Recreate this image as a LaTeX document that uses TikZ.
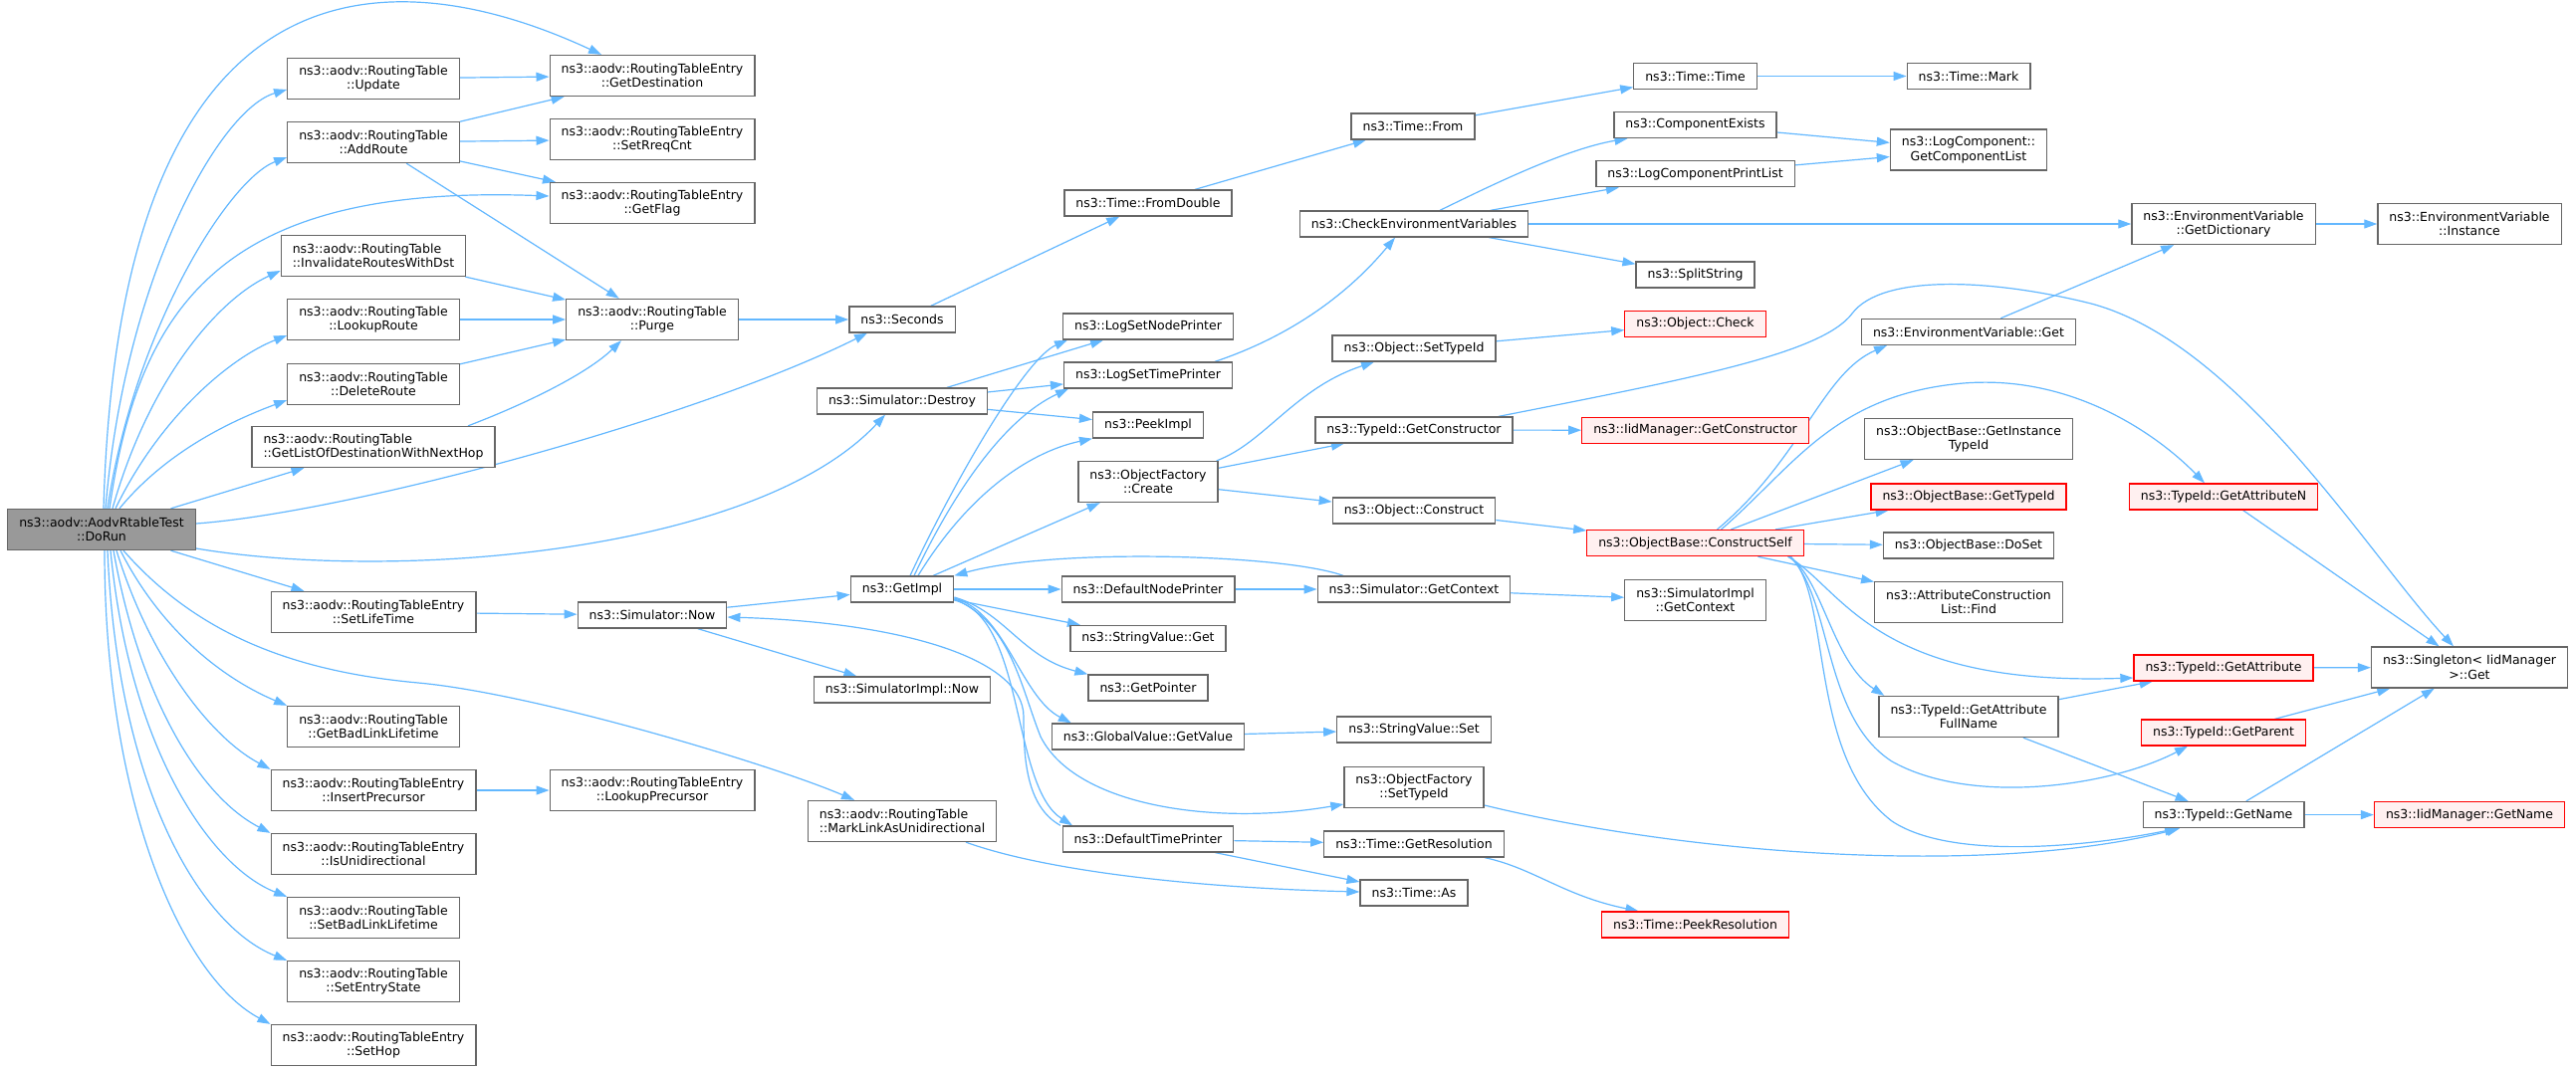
\documentclass[tikz,border=0pt]{standalone}
\usepackage{fontspec}
\setmainfont{DejaVu Sans}
\usetikzlibrary{arrows.meta}
\pgfdeclarelayer{bg}
\pgfsetlayers{bg,main}
\definecolor{callblue}{HTML}{63B8FF}
\definecolor{boxgray}{HTML}{666666}
\definecolor{rootgray}{HTML}{999999}
\definecolor{warnred}{HTML}{FF0000}
\definecolor{warnfill}{HTML}{FFF0F0}
\tikzset{
	fn/.style={draw=boxgray, line width=1.3pt, fill=white, inner xsep=11.5pt, inner ysep=2pt, minimum height=26pt, align=center, font=\fontsize{12.5}{14.5}\selectfont},
	fntwo/.style={fn, minimum height=41pt},
	fnred/.style={fn, draw=warnred, fill=warnfill},
	fnroot/.style={fntwo, fill=rootgray},
	calls/.style={draw=callblue, line width=1.2pt, -{Triangle[length=13pt,width=9pt]}}
}
\begin{document}
\begin{tikzpicture}[x=1pt, y=-1pt]
				\node[fnroot] (d) at (102,532) {ns3::aodv::AodvRtableTest\\::DoRun};
				\node[fntwo] (upd) at (375,79) {ns3::aodv::RoutingTable\\::Update};
				\node[fntwo] (addr) at (375,143) {ns3::aodv::RoutingTable\\::AddRoute};
				\node[fntwo, align=left] (inv) at (375,257) {ns3::aodv::RoutingTable\\::InvalidateRoutesWithDst};
				\node[fntwo] (lkr) at (375,321) {ns3::aodv::RoutingTable\\::LookupRoute};
				\node[fntwo] (delr) at (375,386) {ns3::aodv::RoutingTable\\::DeleteRoute};
				\node[fntwo, align=left] (glod) at (375,449) {ns3::aodv::RoutingTable\\::GetListOfDestinationWithNextHop};
				\node[fntwo] (slt) at (375,615) {ns3::aodv::RoutingTableEntry\\::SetLifeTime};
				\node[fntwo] (gbll) at (375,730) {ns3::aodv::RoutingTable\\::GetBadLinkLifetime};
				\node[fntwo] (insp) at (375,794) {ns3::aodv::RoutingTableEntry\\::InsertPrecursor};
				\node[fntwo] (isu) at (375,858) {ns3::aodv::RoutingTableEntry\\::IsUnidirectional};
				\node[fntwo] (sbll) at (375,922) {ns3::aodv::RoutingTable\\::SetBadLinkLifetime};
				\node[fntwo] (ses) at (375,986) {ns3::aodv::RoutingTable\\::SetEntryState};
				\node[fntwo] (shop) at (375,1050) {ns3::aodv::RoutingTableEntry\\::SetHop};
				\node[fntwo] (gdst) at (655,76) {ns3::aodv::RoutingTableEntry\\::GetDestination};
				\node[fntwo] (srq) at (655,140) {ns3::aodv::RoutingTableEntry\\::SetRreqCnt};
				\node[fntwo] (gflag) at (655,204) {ns3::aodv::RoutingTableEntry\\::GetFlag};
				\node[fntwo] (purge) at (655,321) {ns3::aodv::RoutingTable\\::Purge};
				\node[fn] (snow) at (655,618) {ns3::Simulator::Now};
				\node[fntwo] (lkp) at (655,794) {ns3::aodv::RoutingTableEntry\\::LookupPrecursor};
				\node[fn] (sec) at (906,321) {ns3::Seconds};
				\node[fn] (sdes) at (906,403) {ns3::Simulator::Destroy};
				\node[fn] (gimpl) at (906,592) {ns3::GetImpl};
				\node[fn] (sinow) at (906,693) {ns3::SimulatorImpl::Now};
				\node[fntwo, align=left] (mlau) at (906,825) {ns3::aodv::RoutingTable\\::MarkLinkAsUnidirectional};
				\node[fn] (fdbl) at (1153,204) {ns3::Time::FromDouble};
				\node[fn] (lsnp) at (1153,328) {ns3::LogSetNodePrinter};
				\node[fn] (lstp) at (1153,377) {ns3::LogSetTimePrinter};
				\node[fn] (peek) at (1153,427) {ns3::PeekImpl};
				\node[fntwo] (ofc) at (1153,484) {ns3::ObjectFactory\\::Create};
				\node[fn] (dnp) at (1153,592) {ns3::DefaultNodePrinter};
				\node[fn] (svget) at (1153,641.5) {ns3::StringValue::Get};
				\node[fn] (gptr) at (1153,691) {ns3::GetPointer};
				\node[fn] (gvget) at (1153,740) {ns3::GlobalValue::GetValue};
				\node[fn] (dtp) at (1153,843) {ns3::DefaultTimePrinter};
				\node[fn] (tfrom) at (1419,127) {ns3::Time::From};
				\node[fn] (chk) at (1420,225) {ns3::CheckEnvironmentVariables};
				\node[fn] (osti) at (1420,350) {ns3::Object::SetTypeId};
				\node[fn] (tgc) at (1420,432) {ns3::TypeId::GetConstructor};
				\node[fn] (ocon) at (1420,513) {ns3::Object::Construct};
				\node[fn] (sgc) at (1420,592) {ns3::Simulator::GetContext};
				\node[fn] (svset) at (1420,733) {ns3::StringValue::Set};
				\node[fntwo] (ofst) at (1420,791) {ns3::ObjectFactory\\::SetTypeId};
				\node[fn] (tgr) at (1420,848) {ns3::Time::GetResolution};
				\node[fn] (tas) at (1420,897) {ns3::Time::As};
				\node[fn] (ttime) at (1702.5,76.5) {ns3::Time::Time};
				\node[fn] (cex) at (1702.5,125.5) {ns3::ComponentExists};
				\node[fn] (lcpl) at (1702.5,174.7) {ns3::LogComponentPrintList};
				\node[fn] (split) at (1702.5,276) {ns3::SplitString};
				\node[fnred] (ochk) at (1702.5,325.4) {ns3::Object::Check};
				\node[fnred] (igc) at (1702.5,432.3) {ns3::IidManager::GetConstructor};
				\node[fnred] (cself) at (1702.5,545.6) {ns3::ObjectBase::ConstructSelf};
				\node[fntwo] (sigc) at (1702.5,603) {ns3::SimulatorImpl\\::GetContext};
				\node[fnred] (tpr) at (1702.5,929) {ns3::Time::PeekResolution};
				\node[fn] (tmark) at (1977,76.5) {ns3::Time::Mark};
				\node[fntwo] (gcl) at (1977,150.6) {ns3::LogComponent::\\GetComponentList};
				\node[fn] (evget) at (1977,333.4) {ns3::EnvironmentVariable::Get};
				\node[fntwo] (giti) at (1977,441) {ns3::ObjectBase::GetInstance\\TypeId};
				\node[fnred] (obgti) at (1977,499) {ns3::ObjectBase::GetTypeId};
				\node[fn] (doset) at (1977,548) {ns3::ObjectBase::DoSet};
				\node[fntwo] (acl) at (1977,605) {ns3::AttributeConstruction\\List::Find};
				\node[fntwo] (gafn) at (1977,720) {ns3::TypeId::GetAttribute\\FullName};
				\node[fntwo] (gdict) at (2233,225) {ns3::EnvironmentVariable\\::GetDictionary};
				\node[fnred] (gattn) at (2233,499) {ns3::TypeId::GetAttributeN};
				\node[fnred] (gatt) at (2233,671) {ns3::TypeId::GetAttribute};
				\node[fnred] (gpar) at (2233,736) {ns3::TypeId::GetParent};
				\node[fn] (gname) at (2233,818.6) {ns3::TypeId::GetName};
				\node[fntwo] (inst) at (2480,225) {ns3::EnvironmentVariable\\::Instance};
				\node[fntwo] (sing) at (2480,670.5) {ns3::Singleton< IidManager\\>::Get};
				\node[fnred] (ign) at (2480,818.6) {ns3::IidManager::GetName};
				\begin{pgfonlayer}{bg}
					\path[use as bounding box, fill=white] (0,0) rectangle (2587,1075);
					\foreach \a/\b in {upd/gdst, addr/gdst, addr/srq, addr/gflag, addr/purge, inv/purge, lkr/purge, delr/purge, d/glod, d/slt, slt/snow, insp/lkp, purge/sec, sec/fdbl, fdbl/tfrom, tfrom/ttime, ttime/tmark, snow/gimpl, snow/sinow, sdes/lsnp, sdes/lstp, sdes/peek, gimpl/ofc, gimpl/dnp, gimpl/svget, dnp/sgc, sgc/sigc, gvget/svset, dtp/tgr, dtp/tas, chk/lcpl, chk/split, chk/gdict, cex/gcl, lcpl/gcl, gdict/inst, evget/gdict, ofc/tgc, ofc/ocon, osti/ochk, tgc/igc, ocon/cself, cself/giti, cself/obgti, cself/doset, cself/acl, gafn/gatt, gafn/gname, gattn/sing, gatt/sing, gpar/sing, gname/sing, gname/ign}
						\draw[calls] (\a) -- (\b);
					\draw[calls] ([xshift=2pt]d.north) .. controls (120,-60) and (400,-40) .. ([xshift=-51pt]gdst.north);
					\draw[calls] ([xshift=4pt]d.north) .. controls (125,280) and (220,110) .. ([yshift=-11pt]upd.west);
					\draw[calls] ([xshift=6pt]d.north) .. controls (135,330) and (230,180) .. ([yshift=-15pt]addr.west);
					\draw[calls] ([xshift=8pt]d.north) .. controls (140,300) and (230,185) .. ([yshift=7pt]gflag.west);
					\draw[calls] ([xshift=11pt]d.north) .. controls (150,380) and (220,300) .. ([yshift=-15pt]inv.west);
					\draw[calls] ([xshift=14pt]d.north) .. controls (160,420) and (230,360) .. ([yshift=-16pt]lkr.west);
					\draw[calls] ([xshift=18pt]d.north) .. controls (170,450) and (240,420) .. ([yshift=-16pt]delr.west);
					\draw[calls] ([yshift=6pt]d.east) .. controls (350,515) and (700,420) .. ([xshift=-35pt]sec.south);
					\draw[calls] ([yshift=-19pt]d.east) .. controls (400,585) and (760,555) .. ([xshift=-17pt]sdes.south);
					\draw[calls] ([xshift=19pt]d.south) .. controls (160,630) and (220,680) .. (gbll.north west);
					\draw[calls] ([xshift=15pt]d.south) .. controls (150,660) and (210,740) .. (insp.north west);
					\draw[calls] ([xshift=12pt]d.south) .. controls (140,700) and (200,800) .. (isu.north west);
					\draw[calls] ([xshift=9pt]d.south) .. controls (130,750) and (210,870) .. (sbll.north west);
					\draw[calls] ([xshift=6pt]d.south) .. controls (118,790) and (200,930) .. (ses.north west);
					\draw[calls] ([xshift=3pt]d.south) .. controls (105,800) and (180,980) .. (shop.north west);
					\draw[calls] ([xshift=22pt]d.south) .. controls (200,640) and (300,675) .. (420,686) .. controls (540,697) and (780,770) .. ([xshift=-48pt]mlau.north);
					\draw[calls] ([xshift=95pt]glod.north) .. controls (530,405) and (590,375) .. ([xshift=-31pt]purge.south);
					\draw[calls] ([xshift=67pt]lstp.north) .. controls (1290,340) and (1350,300) .. ([xshift=-19pt]chk.south);
					\draw[calls] ([xshift=8pt]gimpl.north) .. controls (960,480) and (1030,360) .. ([xshift=-81pt]lsnp.south);
					\draw[calls] ([xshift=12pt]gimpl.north) .. controls (960,490) and (1010,420) .. ([xshift=-80pt]lstp.south);
					\draw[calls] ([xshift=16pt]gimpl.north) .. controls (970,500) and (1030,455) .. (peek.south west);
					\draw[calls] ([xshift=-71pt]sgc.north) .. controls (1290,557) and (1060,550) .. (gimpl.north east);
					\draw[calls] ([xshift=-88pt]dtp.north) .. controls (1030,810) and (1028,760) .. (1028,720) .. controls (1028,660) and (900,625) .. ([yshift=-2pt]snow.east);
					\draw[calls] ([yshift=-8pt]gimpl.east) .. controls (1010,615) and (1025,660) .. (gptr.north west);
					\draw[calls] ([yshift=-9pt]gimpl.east) .. controls (1010,615) and (1025,700) .. ([xshift=20pt]gvget.north west);
					\draw[calls] ([yshift=-10pt]gimpl.east) .. controls (1015,625) and (1025,690) .. (1045,740) .. controls (1080,810) and (1220,830) .. ([yshift=-17pt]ofst.west);
					\draw[calls] ([yshift=-11pt]gimpl.east) .. controls (1030,620) and (1015,790) .. ([xshift=-76pt]dtp.north);
					\draw[calls] ([xshift=64pt]mlau.south) .. controls (1050,875) and (1200,892) .. ([yshift=1pt]tas.west);
					\draw[calls] ([xshift=71pt]tgr.south) .. controls (1540,872) and (1570,900) .. ([xshift=-57pt]tpr.north);
					\draw[calls] ([xshift=-2pt]ofc.north east) .. controls (1270,445) and (1300,390) .. ([xshift=-40pt]osti.south);
					\draw[calls] ([xshift=85pt]tgc.north) .. controls (1700,380) and (1830,355) .. (1860,315) .. controls (1890,275) and (2000,280) .. (2100,305) .. controls (2250,345) and (2380,560) .. ([xshift=-16pt]sing.north);
					\draw[calls] ([xshift=26pt]chk.north) .. controls (1490,190) and (1570,150) .. ([xshift=-68pt]cex.south);
					\draw[calls] ([xshift=22pt]cself.north) .. controls (1810,460) and (1830,375) .. ([xshift=-82pt]evget.south);
					\draw[calls] ([xshift=26pt]cself.north) .. controls (1800,470) and (1840,400) .. (1962,386) .. controls (2080,372) and (2170,440) .. ([xshift=-19pt]gattn.north);
					\draw[calls] ([xshift=93pt]cself.south) .. controls (1850,590) and (1880,690) .. ([yshift=-10pt]gatt.west);
					\draw[calls] ([xshift=94pt]cself.south) .. controls (1830,580) and (1840,665) .. ([xshift=6pt]gafn.north west);
					\draw[calls] ([xshift=95pt]cself.south) .. controls (1840,600) and (1830,720) .. (1900,765) .. controls (1980,810) and (2120,790) .. ([xshift=-36pt]gpar.south);
					\draw[calls] ([xshift=96pt]cself.south) .. controls (1840,600) and (1815,760) .. (1900,825) .. controls (1960,865) and (2100,850) .. ([xshift=-46pt]gname.south);
					\draw[calls] ([yshift=-18pt]ofst.east) .. controls (1700,860) and (2000,880) .. ([xshift=-44pt]gname.south);
				\end{pgfonlayer}
			\end{tikzpicture}
\end{document}
